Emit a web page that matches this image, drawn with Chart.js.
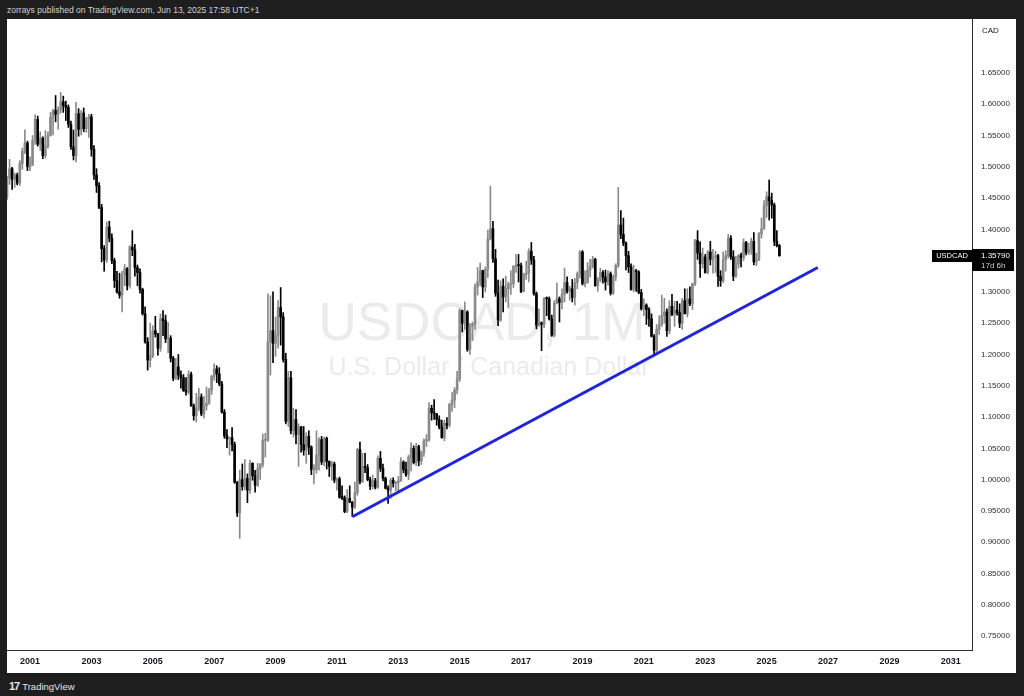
<!DOCTYPE html>
<html>
<head>
<meta charset="utf-8">
<title>USDCAD, 1M</title>
<script src="https://cdn.jsdelivr.net/npm/chart.js@4.4.0/dist/chart.umd.min.js"></script>
<style>
  html, body { margin: 0; padding: 0; width: 1024px; height: 696px; overflow: hidden; background: #1e1e1e; }
  #header { position: absolute; left: 7px; top: 5px; font: 8.5px "Liberation Sans", Arial, sans-serif; color: #d2d2d2; white-space: nowrap; }
  #panel { position: absolute; left: 7px; top: 19px; width: 1009px; height: 654px; background: #ffffff; }
  #footer { position: absolute; left: 9px; top: 680px; font: 9.5px "Liberation Sans", Arial, sans-serif; color: #e6e6e6; white-space: nowrap; }
  #footer b { font-size: 11px; letter-spacing: -1px; margin-right: 3px; }
</style>
</head>
<body>
<div id="header">zorrays published on TradingView.com, Jun 13, 2025 17:58 UTC+1</div>
<div id="panel"><canvas id="chart" width="1009" height="654"></canvas></div>
<div id="footer"><b>17</b>TradingView</div>
<script>
// Monthly USDCAD candles, first one is Apr 2000 (months counted from Jan 2000)
const firstMonth = 3;

const opens = [
  1.452,1.482,1.497,1.480,1.487,1.474,1.505,1.525,1.538,                   // 2000 Apr-Dec
  1.500,1.503,1.542,1.576,1.536,1.546,1.518,1.533,1.550,1.579,1.590,1.584, // 2001
  1.592,1.604,1.598,1.595,1.568,1.532,1.518,1.585,1.560,1.586,1.561,1.577, // 2002
  1.580,1.528,1.487,1.470,1.435,1.369,1.351,1.404,1.386,1.350,1.318,1.300, // 2003
  1.295,1.327,1.337,1.310,1.372,1.367,1.339,1.331,1.304,1.265,1.220,1.191, // 2004
  1.198,1.238,1.233,1.210,1.257,1.254,1.225,1.226,1.194,1.162,1.180,1.167, // 2005
  1.163,1.142,1.140,1.168,1.118,1.102,1.114,1.132,1.105,1.118,1.122,1.143, // 2006
  1.165,1.177,1.169,1.153,1.108,1.070,1.065,1.067,1.056,0.996,0.947,1.000, // 2007
  0.989,1.002,0.983,1.026,1.006,0.991,1.017,1.024,1.063,1.063,1.220,1.238, // 2008
  1.218,1.231,1.275,1.260,1.192,1.093,1.163,1.078,1.096,1.072,1.084,1.056, // 2009
  1.047,1.069,1.052,1.016,1.016,1.039,1.064,1.028,1.066,1.029,1.021,1.025, // 2010
  0.999,1.001,0.972,0.971,0.949,0.970,0.964,0.956,0.979,1.048,0.997,1.021, // 2011
  1.019,1.000,0.989,0.998,0.988,1.034,1.018,1.002,0.986,0.983,0.999,0.994, // 2012
  0.995,0.998,1.028,1.016,1.008,1.036,1.050,1.027,1.053,1.030,1.043,1.062, // 2013
  1.064,1.114,1.107,1.105,1.096,1.084,1.067,1.090,1.087,1.120,1.127,1.143, // 2014
  1.161,1.270,1.250,1.268,1.208,1.245,1.249,1.308,1.316,1.334,1.308,1.336, // 2015
  1.385,1.401,1.353,1.298,1.255,1.309,1.292,1.305,1.312,1.313,1.341,1.343, // 2016
  1.342,1.301,1.328,1.330,1.365,1.351,1.297,1.247,1.251,1.248,1.290,1.289, // 2017
  1.257,1.231,1.282,1.289,1.283,1.296,1.315,1.301,1.305,1.291,1.315,1.329, // 2018
  1.364,1.313,1.315,1.335,1.341,1.352,1.310,1.319,1.331,1.324,1.316,1.329, // 2019
  1.298,1.324,1.342,1.407,1.392,1.378,1.358,1.340,1.304,1.334,1.332,1.299, // 2020
  1.273,1.279,1.272,1.257,1.229,1.207,1.240,1.248,1.262,1.268,1.238,1.277, // 2021
  1.264,1.271,1.267,1.250,1.286,1.265,1.289,1.281,1.313,1.382,1.362,1.345, // 2022
  1.356,1.331,1.364,1.352,1.356,1.358,1.325,1.318,1.351,1.358,1.386,1.356, // 2023
  1.325,1.345,1.358,1.355,1.379,1.363,1.368,1.381,1.348,1.352,1.393,1.401, // 2024
  1.438,1.452,1.446,1.439,1.381,1.374                                      // 2025 Jan-Jun
];
const highs = [
  1.485,1.512,1.499,1.490,1.490,1.510,1.530,1.559,1.541,
  1.516,1.550,1.583,1.581,1.556,1.548,1.558,1.556,1.587,1.592,1.614,1.596,
  1.619,1.613,1.605,1.599,1.573,1.559,1.603,1.593,1.590,1.594,1.579,1.584,
  1.584,1.534,1.497,1.475,1.440,1.374,1.412,1.413,1.393,1.354,1.333,1.330,
  1.333,1.344,1.339,1.374,1.398,1.376,1.343,1.337,1.306,1.276,1.227,1.250,
  1.246,1.261,1.234,1.265,1.270,1.263,1.251,1.230,1.197,1.194,1.200,1.174,
  1.168,1.163,1.174,1.172,1.121,1.138,1.146,1.137,1.133,1.148,1.146,1.167,
  1.185,1.182,1.179,1.157,1.112,1.080,1.068,1.083,1.060,0.997,1.015,1.025,
  1.032,1.009,1.031,1.027,1.015,1.026,1.026,1.073,1.074,1.297,1.294,1.300,
  1.260,1.286,1.307,1.267,1.202,1.173,1.173,1.114,1.112,1.089,1.085,1.085,
  1.075,1.078,1.054,1.024,1.078,1.067,1.069,1.068,1.068,1.030,1.029,1.028,
  1.003,1.004,0.990,0.974,0.984,0.990,0.965,0.996,1.050,1.060,1.042,1.042,
  1.024,1.004,1.007,1.002,1.038,1.045,1.025,1.004,0.990,1.002,1.003,0.997,
  1.005,1.035,1.030,1.028,1.039,1.059,1.054,1.058,1.055,1.046,1.065,1.072,
  1.123,1.119,1.128,1.106,1.102,1.095,1.095,1.099,1.122,1.139,1.147,1.173,
  1.273,1.271,1.284,1.270,1.250,1.252,1.313,1.339,1.346,1.335,1.340,1.399,
  1.469,1.413,1.368,1.319,1.318,1.321,1.325,1.316,1.334,1.342,1.360,1.360,
  1.346,1.330,1.349,1.369,1.379,1.357,1.300,1.273,1.252,1.291,1.292,1.292,
  1.263,1.286,1.314,1.292,1.305,1.338,1.324,1.309,1.320,1.322,1.332,1.366,
  1.366,1.334,1.347,1.352,1.357,1.354,1.323,1.338,1.334,1.335,1.334,1.332,
  1.327,1.345,1.467,1.430,1.418,1.380,1.365,1.345,1.343,1.336,1.334,1.304,
  1.289,1.281,1.275,1.265,1.232,1.248,1.262,1.295,1.290,1.273,1.286,1.296,
  1.285,1.285,1.281,1.290,1.305,1.305,1.308,1.314,1.384,1.398,1.380,1.370,
  1.360,1.366,1.381,1.368,1.365,1.360,1.334,1.364,1.366,1.392,1.390,1.366,
  1.357,1.360,1.362,1.385,1.381,1.378,1.386,1.395,1.362,1.395,1.418,1.446,
  1.460,1.479,1.458,1.442,1.398,1.376
];
const lows = [
  1.447,1.472,1.464,1.467,1.471,1.470,1.496,1.521,1.494,
  1.494,1.502,1.536,1.533,1.526,1.513,1.514,1.530,1.549,1.551,1.572,1.560,
  1.586,1.587,1.574,1.563,1.528,1.511,1.508,1.549,1.551,1.556,1.555,1.547,
  1.517,1.480,1.459,1.433,1.348,1.333,1.347,1.380,1.345,1.307,1.298,1.290,
  1.268,1.310,1.303,1.306,1.358,1.325,1.310,1.298,1.263,1.218,1.175,1.180,
  1.195,1.228,1.199,1.205,1.230,1.219,1.203,1.188,1.158,1.160,1.160,1.146,
  1.141,1.135,1.137,1.117,1.095,1.092,1.110,1.102,1.098,1.111,1.120,1.136,
  1.159,1.155,1.150,1.106,1.066,1.051,1.039,1.046,0.994,0.941,0.906,0.983,
  0.984,0.963,0.978,0.999,0.980,0.989,1.000,1.020,1.036,1.061,1.167,1.187,
  1.197,1.210,1.215,1.188,1.089,1.085,1.073,1.068,1.057,1.021,1.044,1.039,
  1.026,1.040,1.008,0.993,1.010,1.015,1.024,1.022,1.017,1.005,0.999,0.995,
  0.983,0.970,0.968,0.947,0.947,0.963,0.941,0.954,0.975,0.993,0.995,1.011,
  0.998,0.984,0.985,0.985,0.986,1.013,0.998,0.985,0.962,0.970,0.988,0.982,
  0.982,0.997,1.011,1.005,1.000,1.014,1.025,1.022,1.022,1.024,1.037,1.053,
  1.061,1.095,1.096,1.087,1.081,1.066,1.062,1.081,1.084,1.109,1.115,1.137,
  1.157,1.236,1.240,1.205,1.200,1.222,1.240,1.295,1.310,1.291,1.300,1.323,
  1.383,1.347,1.293,1.246,1.253,1.268,1.284,1.275,1.296,1.307,1.331,1.316,
  1.299,1.300,1.320,1.316,1.344,1.295,1.241,1.245,1.206,1.243,1.262,1.255,
  1.229,1.228,1.281,1.252,1.273,1.284,1.298,1.287,1.284,1.279,1.305,1.322,
  1.311,1.308,1.314,1.324,1.338,1.309,1.301,1.316,1.314,1.303,1.311,1.295,
  1.296,1.318,1.339,1.385,1.374,1.335,1.331,1.303,1.300,1.301,1.297,1.271,
  1.262,1.248,1.245,1.228,1.200,1.203,1.232,1.245,1.250,1.229,1.233,1.262,
  1.245,1.263,1.243,1.240,1.265,1.260,1.278,1.272,1.310,1.352,1.323,1.338,
  1.330,1.329,1.343,1.330,1.331,1.309,1.309,1.315,1.333,1.354,1.352,1.318,
  1.323,1.338,1.340,1.350,1.359,1.360,1.360,1.343,1.342,1.350,1.386,1.400,
  1.419,1.415,1.418,1.374,1.372,1.357
];
const closes = [
  1.482,1.497,1.480,1.487,1.474,1.505,1.525,1.538,1.500,
  1.503,1.542,1.576,1.536,1.546,1.518,1.533,1.550,1.579,1.590,1.584,1.592,
  1.604,1.598,1.595,1.568,1.532,1.518,1.585,1.560,1.586,1.561,1.577,1.580,
  1.528,1.487,1.470,1.435,1.369,1.351,1.404,1.386,1.350,1.318,1.300,1.295,
  1.327,1.337,1.310,1.372,1.367,1.339,1.331,1.304,1.265,1.220,1.191,1.198,
  1.238,1.233,1.210,1.257,1.254,1.225,1.226,1.194,1.162,1.180,1.167,1.163,
  1.142,1.140,1.168,1.118,1.102,1.114,1.132,1.105,1.118,1.122,1.143,1.165,
  1.177,1.169,1.153,1.108,1.070,1.065,1.067,1.056,0.996,0.947,1.000,0.989,
  1.002,0.983,1.026,1.006,0.991,1.017,1.024,1.063,1.063,1.220,1.238,1.218,
  1.231,1.275,1.260,1.192,1.093,1.163,1.078,1.096,1.072,1.084,1.056,1.047,
  1.069,1.052,1.016,1.016,1.039,1.064,1.028,1.066,1.029,1.021,1.025,0.999,
  1.001,0.972,0.971,0.949,0.970,0.964,0.956,0.979,1.048,0.997,1.021,1.019,
  1.000,0.989,0.998,0.988,1.034,1.018,1.002,0.986,0.983,0.999,0.994,0.995,
  0.998,1.028,1.016,1.008,1.036,1.050,1.027,1.053,1.030,1.043,1.062,1.064,
  1.114,1.107,1.105,1.096,1.084,1.067,1.090,1.087,1.120,1.127,1.143,1.161,
  1.270,1.250,1.268,1.208,1.245,1.249,1.308,1.316,1.334,1.308,1.336,1.385,
  1.401,1.353,1.298,1.255,1.309,1.292,1.305,1.312,1.313,1.341,1.343,1.342,
  1.301,1.328,1.330,1.365,1.351,1.297,1.247,1.251,1.248,1.290,1.289,1.257,
  1.231,1.282,1.289,1.283,1.296,1.315,1.301,1.305,1.291,1.315,1.329,1.364,
  1.313,1.315,1.335,1.341,1.352,1.310,1.319,1.331,1.324,1.316,1.329,1.298,
  1.324,1.342,1.407,1.392,1.378,1.358,1.340,1.304,1.334,1.332,1.299,1.273,
  1.279,1.272,1.257,1.229,1.207,1.240,1.248,1.262,1.268,1.238,1.277,1.264,
  1.271,1.267,1.250,1.286,1.265,1.289,1.281,1.313,1.382,1.362,1.345,1.356,
  1.331,1.364,1.352,1.356,1.358,1.325,1.318,1.351,1.358,1.386,1.356,1.325,
  1.345,1.358,1.355,1.379,1.363,1.368,1.381,1.348,1.352,1.393,1.401,1.438,
  1.452,1.446,1.439,1.381,1.374,1.3579
];

// Trend line drawn on the chart (month index, price)
const trendMonths = [138, 320];
const trendPrices = [0.9406, 1.339];

// Axis labels
const priceTicks = [0.75, 0.80, 0.85, 0.90, 0.95, 1.00, 1.05, 1.10, 1.15, 1.20, 1.25, 1.30,
                    1.35, 1.40, 1.45, 1.50, 1.55, 1.60, 1.65];
const yearTicks = [2001, 2003, 2005, 2007, 2009, 2011, 2013, 2015, 2017, 2019, 2021, 2023,
                   2025, 2027, 2029, 2031];

const symbol = 'USDCAD';
const countdown = '17d 6h';

// Candle colours
const upColor = '#8a8a8a';
const downColor = '#000000';

const months = closes.map((c, i) => firstMonth + i);
const candleColors = closes.map((c, i) => c >= opens[i] ? upColor : downColor);

const fontFamily = '"Liberation Sans", Arial, sans-serif';

// Watermark behind the candles
const watermarkPlugin = {
    id: 'watermark',
    beforeDatasetsDraw(chart) {
        const ctx = chart.ctx;
        ctx.save();
        ctx.fillStyle = '#ebebeb';
        ctx.textAlign = 'center';
        ctx.textBaseline = 'alphabetic';
        ctx.font = '53px ' + fontFamily;
        ctx.fillText('USDCAD, 1M', 475, 321);
        ctx.font = '25px ' + fontFamily;
        ctx.fillText('U.S. Dollar / Canadian Dollar', 482, 356);
        ctx.restore();
    }
};

// Price scale header and last price labels
const labelsPlugin = {
    id: 'priceLabels',
    afterDraw(chart) {
        const ctx = chart.ctx;
        const y = chart.scales.y;
        const area = chart.chartArea;
        const last = closes[closes.length - 1];
        const py = Math.round(y.getPixelForValue(last));
        ctx.save();
        // "CAD" header on top of the price scale
        ctx.fillStyle = '#131722';
        ctx.font = '8px ' + fontFamily;
        ctx.textAlign = 'left';
        ctx.textBaseline = 'middle';
        ctx.fillText('CAD', area.right + 10, 12);

        // symbol label left of the axis
        ctx.fillStyle = '#000000';
        ctx.fillRect(area.right - 40, py - 6, 40, 12);
        ctx.fillStyle = '#ffffff';
        ctx.font = '7.5px ' + fontFamily;
        ctx.textAlign = 'center';
        ctx.fillText(symbol, area.right - 20, py);

        // last price + countdown box
        ctx.fillStyle = '#000000';
        ctx.fillRect(area.right, py - 7, 42, 22);
        ctx.fillStyle = '#ffffff';
        ctx.font = '8px ' + fontFamily;
        ctx.textAlign = 'left';
        ctx.fillText(last.toFixed(5), area.right + 9, py);
        ctx.fillStyle = '#cfcfcf';
        ctx.fillText(countdown, area.right + 9, py + 10);
        ctx.restore();
    }
};

// keep the plot area flush with the panel edges
function noPadding(scale) {
    scale.paddingTop = 0;
    scale.paddingBottom = 0;
    scale.paddingLeft = 0;
    scale.paddingRight = 0;
}

new Chart(document.getElementById('chart'), {
    type: 'bar',
    data: {
        datasets: [
            {
                type: 'line',
                data: trendMonths.map((m, i) => ({ x: m, y: trendPrices[i] })),
                borderColor: '#1e22e6',
                borderWidth: 3,
                pointRadius: 0,
                order: 0
            },
            {
                data: months.map((m, i) => ({ x: m, y: [opens[i], closes[i]] })),
                backgroundColor: candleColors,
                barThickness: 2,
                minBarLength: 1,
                grouped: false,
                order: 1
            },
            {
                data: months.map((m, i) => ({ x: m, y: [lows[i], highs[i]] })),
                backgroundColor: candleColors,
                barThickness: 1,
                grouped: false,
                order: 2
            }
        ]
    },
    options: {
        responsive: false,
        animation: false,
        devicePixelRatio: 1,
        events: [],
        layout: { padding: 0 },
        plugins: {
            legend: { display: false },
            tooltip: { enabled: false }
        },
        scales: {
            x: {
                type: 'linear',
                min: 3.0,
                max: 380.3,
                offset: false,
                grid: { display: false, drawTicks: false },
                border: { display: true, color: '#2a2e39', width: 1 },
                afterBuildTicks(scale) {
                    scale.ticks = yearTicks.map(yr => ({ value: (yr - 2000) * 12 }));
                },
                afterFit(scale) { scale.height = 23; noPadding(scale); },
                ticks: {
                    autoSkip: false,
                    maxRotation: 0,
                    padding: 6,
                    color: '#131722',
                    font: { family: fontFamily, size: 9, weight: 'bold' },
                    callback: v => String(2000 + v / 12)
                }
            },
            y: {
                type: 'linear',
                position: 'right',
                min: 0.7276,
                max: 1.7363,
                grid: { display: false, drawTicks: false },
                border: { display: true, color: '#2a2e39', width: 1 },
                afterBuildTicks(scale) {
                    scale.ticks = priceTicks.map(v => ({ value: v }));
                },
                afterFit(scale) { scale.width = 44; noPadding(scale); },
                ticks: {
                    padding: 9,
                    color: '#2a2e39',
                    font: { family: fontFamily, size: 8 },
                    callback: v => v.toFixed(5)
                }
            }
        }
    },
    plugins: [watermarkPlugin, labelsPlugin]
});
</script>
</body>
</html>
